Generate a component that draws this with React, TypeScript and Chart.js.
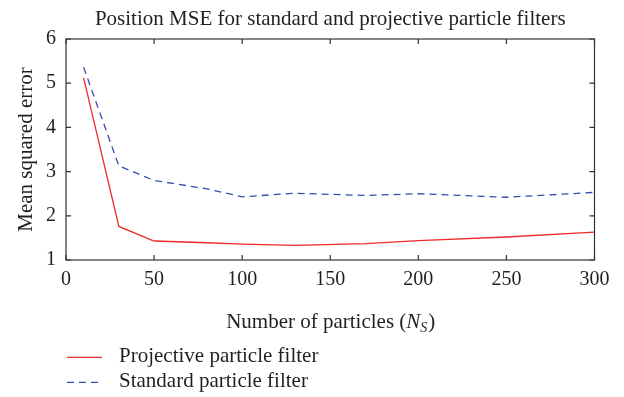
import React, { useEffect, useRef } from "react";
import { Chart, registerables } from "chart.js";

Chart.register(...registerables);

const particleCounts = [10, 30, 50, 80, 100, 130, 170, 200, 250, 300];
const projectiveMSE = [5.12, 1.76, 1.43, 1.39, 1.36, 1.33, 1.37, 1.44, 1.52, 1.63];
const standardMSE = [5.36, 3.13, 2.8, 2.61, 2.43, 2.51, 2.46, 2.5, 2.42, 2.53];
const seriesLabels = ["Projective particle filter", "Standard particle filter"];
const xTickValues = [0, 50, 100, 150, 200, 250, 300];
const yTickValues = [1, 2, 3, 4, 5, 6];
const chartTitle = "Position MSE for standard and projective particle filters";
const yAxisTitle = "Mean squared error";
const xAxisTitleMain = "Number of particles (";
const xAxisTitleSymbol = "N";
const xAxisTitleSub = "S";
const xAxisTitleEnd = ")";

const FAMILY = '"Liberation Serif", "Times New Roman", serif';
const TEXT = "#231f20";
const FRAME = "#333333";

const framePlugin = {
  id: "frameTicksLegend",
  afterDraw(chart: any) {
    const { ctx, chartArea } = chart;
    const { left, right, top, bottom } = chartArea;
    const xs = chart.scales.x;
    const ys = chart.scales.y;
    ctx.save();
    ctx.strokeStyle = FRAME;
    ctx.lineWidth = 1.2;
    ctx.setLineDash([]);
    ctx.strokeRect(left, top, right - left, bottom - top);
    const tl = 5;
    ctx.beginPath();
    xTickValues.forEach((v) => {
      const px = xs.getPixelForValue(v);
      ctx.moveTo(px, bottom);
      ctx.lineTo(px, bottom - tl);
      ctx.moveTo(px, top);
      ctx.lineTo(px, top + tl);
    });
    yTickValues.forEach((v) => {
      const py = ys.getPixelForValue(v);
      ctx.moveTo(left, py);
      ctx.lineTo(left + tl, py);
      ctx.moveTo(right, py);
      ctx.lineTo(right - tl, py);
    });
    ctx.stroke();

    // x axis title with italic N and subscript S
    const normal = `21px ${FAMILY}`;
    const italic = `italic 21px ${FAMILY}`;
    const small = `italic 14px ${FAMILY}`;
    ctx.fillStyle = TEXT;
    ctx.textBaseline = "alphabetic";
    ctx.textAlign = "left";
    ctx.font = normal;
    const w1 = ctx.measureText(xAxisTitleMain).width;
    const w4 = ctx.measureText(xAxisTitleEnd).width;
    ctx.font = italic;
    const w2 = ctx.measureText(xAxisTitleSymbol).width;
    ctx.font = small;
    const w3 = ctx.measureText(xAxisTitleSub).width;
    const total = w1 + w2 + w3 + w4;
    let x0 = (left + right) / 2 - total / 2;
    const baseY = 327.5;
    ctx.font = normal;
    ctx.fillText(xAxisTitleMain, x0, baseY);
    x0 += w1;
    ctx.font = italic;
    ctx.fillText(xAxisTitleSymbol, x0, baseY);
    x0 += w2;
    ctx.font = small;
    ctx.fillText(xAxisTitleSub, x0, baseY + 4);
    x0 += w3 + 1;
    ctx.font = normal;
    ctx.fillText(xAxisTitleEnd, x0, baseY);

    // legend
    chart.data.datasets.forEach((ds: any, i: number) => {
      const lineY = 357.3 + i * 25;
      const textY = 362.3 + i * 24.4;
      ctx.beginPath();
      ctx.strokeStyle = ds.borderColor;
      ctx.lineWidth = ds.borderWidth;
      ctx.setLineDash(ds.borderDash || []);
      ctx.moveTo(67, lineY);
      ctx.lineTo(102, lineY);
      ctx.stroke();
      ctx.setLineDash([]);
      ctx.font = normal;
      ctx.fillStyle = TEXT;
      ctx.textBaseline = "alphabetic";
      ctx.fillText(ds.label, 119, textY);
    });
    ctx.restore();
  },
};

export default function App() {
  const ref = useRef<HTMLCanvasElement | null>(null);
  useEffect(() => {
    document.body.style.margin = "0";
    const canvas = ref.current;
    if (!canvas) return;
    const chart = new Chart(canvas, {
      type: "line",
      data: {
        datasets: [
          {
            label: seriesLabels[0],
            data: particleCounts.map((x, i) => ({ x, y: projectiveMSE[i] })),
            borderColor: "#f02a2a",
            borderWidth: 1.3,
            pointRadius: 0,
            tension: 0,
            fill: false,
          },
          {
            label: seriesLabels[1],
            data: particleCounts.map((x, i) => ({ x, y: standardMSE[i] })),
            borderColor: "#2f4fae",
            borderWidth: 1.3,
            borderDash: [7, 5],
            pointRadius: 0,
            tension: 0,
            fill: false,
          },
        ],
      },
      options: {
        animation: false,
        responsive: false,
        devicePixelRatio: 1,
        layout: { padding: { left: 0, right: 29.5, top: 0, bottom: 0 } },
        plugins: {
          legend: { display: false },
          tooltip: { enabled: false },
          title: {
            display: true,
            text: chartTitle,
            fullSize: false,
            color: TEXT,
            font: { family: FAMILY, size: 21, weight: "normal", lineHeight: 1.2 },
            padding: { top: 7, bottom: 6.8 },
          },
        },
        scales: {
          x: {
            type: "linear",
            min: 0,
            max: 300,
            grid: { display: false, drawTicks: false },
            border: { display: false },
            ticks: {
              stepSize: 50,
              color: TEXT,
              padding: 8,
              font: { family: FAMILY, size: 20 },
              maxRotation: 0,
            },
            afterFit: (scale: any) => {
              scale.height = 137;
            },
          },
          y: {
            type: "linear",
            min: 1,
            max: 6,
            grid: { display: false, drawTicks: false },
            border: { display: false },
            ticks: {
              stepSize: 1,
              color: TEXT,
              padding: 10,
              font: { family: FAMILY, size: 20 },
            },
            title: {
              display: true,
              text: yAxisTitle,
              color: TEXT,
              font: { family: FAMILY, size: 21, lineHeight: 1.2 },
              padding: { top: 13.8, bottom: 0 },
            },
            afterFit: (scale: any) => {
              scale.width = 66;
            },
          },
        },
      },
      plugins: [framePlugin],
    });
    return () => chart.destroy();
  }, []);
  return (
    <div style={{ width: 624, height: 397 }}>
      <canvas ref={ref} width={624} height={397} style={{ display: "block" }} />
    </div>
  );
}
